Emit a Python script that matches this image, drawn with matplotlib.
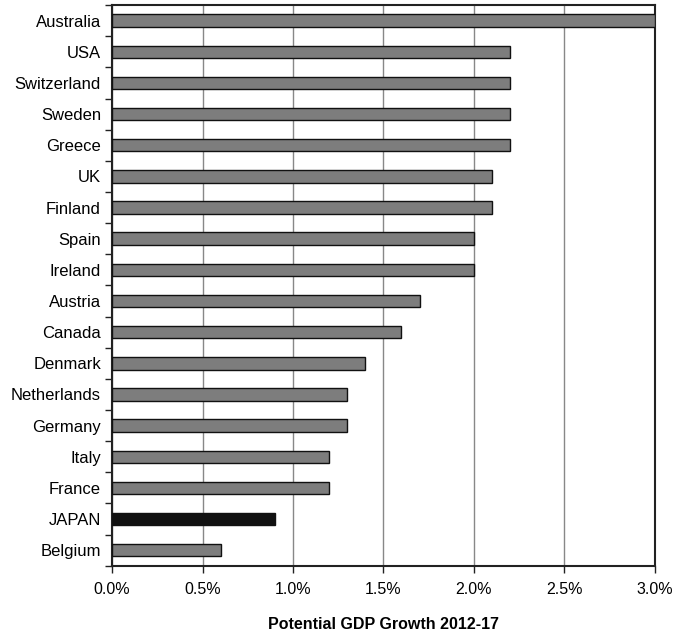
import matplotlib
matplotlib.use("Agg")
import matplotlib.pyplot as plt
import numpy as np
from matplotlib.ticker import FixedLocator

plt.rcParams['font.family'] = ['Liberation Sans', 'DejaVu Sans']

countries = ["Australia", "USA", "Switzerland", "Sweden", "Greece", "UK", "Finland",
             "Spain", "Ireland", "Austria", "Canada", "Denmark", "Netherlands",
             "Germany", "Italy", "France", "JAPAN", "Belgium"]
growth = [3.0, 2.2, 2.2, 2.2, 2.2, 2.1, 2.1, 2.0, 2.0, 1.7, 1.6, 1.4, 1.3, 1.3,
          1.2, 1.2, 0.9, 0.6]
xticks = [0.0, 0.5, 1.0, 1.5, 2.0, 2.5, 3.0]
xticklabels = ["0.0%", "0.5%", "1.0%", "1.5%", "2.0%", "2.5%", "3.0%"]

fig = plt.figure(figsize=(6.75, 6.35), dpi=100)
ax = fig.add_axes([0.166, 0.109, 0.804, 0.883])

n = len(countries)
y = np.arange(n)[::-1]
colors = ['#111111' if c == "JAPAN" else '#7d7d7d' for c in countries]
ax.barh(y, growth, height=0.4, color=colors, edgecolor='#111111', linewidth=1.0, zorder=3)

ax.set_xlim(0, 3.0)
ax.set_ylim(-0.5, n - 0.5)
ax.set_xticks(xticks)
ax.set_xticklabels(xticklabels, fontsize=11.5)
ax.set_yticks(y)
ax.set_yticklabels(countries, fontsize=12)
ax.tick_params(axis='y', which='major', length=0, pad=8)
ax.yaxis.set_minor_locator(FixedLocator(np.arange(-0.5, n, 1.0)))
ax.tick_params(axis='y', which='minor', length=5, width=1, direction='out', color='#222222')
ax.tick_params(axis='x', which='major', length=5, width=1, direction='out', pad=7, color='#222222')

ax.grid(axis='x', color='#888888', linewidth=1.0, zorder=0)
for s in ax.spines.values():
    s.set_color('#222222')
    s.set_linewidth(1.5)

ax.set_xlabel("Potential GDP Growth 2012-17", fontsize=11.5, fontweight='bold', labelpad=14)

fig.savefig("out.png", dpi=100)
